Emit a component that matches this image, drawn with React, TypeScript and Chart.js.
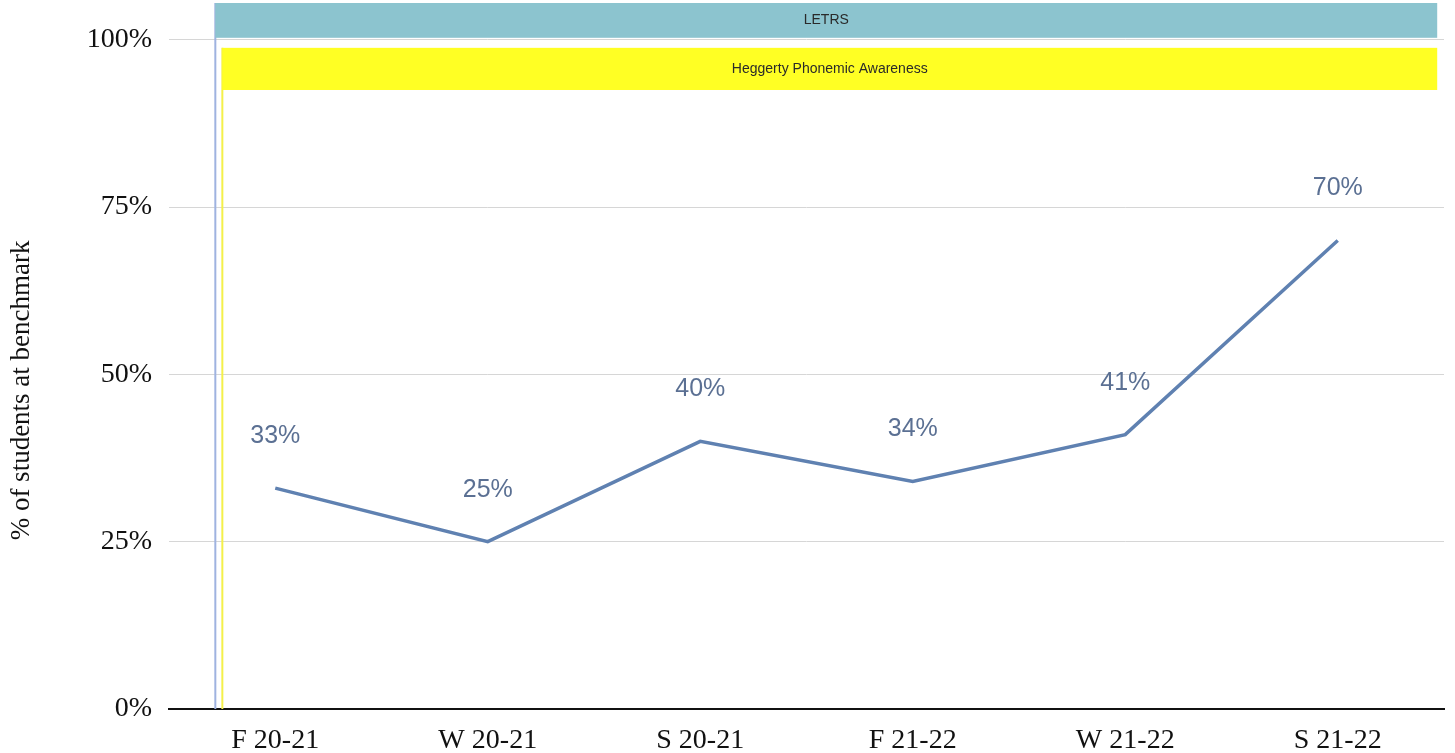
import React, { useEffect, useRef } from "react";
import { Chart, registerables } from "chart.js";

Chart.register(...registerables);

const categories = ["F 20-21", "W 20-21", "S 20-21", "F 21-22", "W 21-22", "S 21-22"];
const values = [33, 25, 40, 34, 41, 70];
const valueLabels = ["33%", "25%", "40%", "34%", "41%", "70%"];
const yTicks = [0, 25, 50, 75, 100];
const yTitle = "% of students at benchmark";

const bandNames = ["LETRS", "Heggerty Phonemic Awareness"];
const bandFrom = [100.3, 92.5];
const bandTo = [105.5, 98.8];
const bandStartIdx = [-0.282, -0.249];
const bandEndIdx = [5.468, 5.468];
const bandFill = ["#8cc4cf", "#ffff24"];
const bandEdge = ["#9fb3e0", "#f4f04a"];

const bandsPlugin = {
  id: "bands",
  beforeDatasetsDraw(chart: any) {
    const { ctx, scales } = chart;
    const x = scales.x;
    const y = scales.y;
    ctx.save();
    for (let i = 0; i < bandNames.length; i++) {
      const x0 = x.getPixelForValue(bandStartIdx[i]);
      const x1 = x.getPixelForValue(bandEndIdx[i]);
      const yTop = y.getPixelForValue(bandTo[i]);
      const yBot = y.getPixelForValue(bandFrom[i]);
      const y0 = y.getPixelForValue(0);
      ctx.strokeStyle = bandEdge[i];
      ctx.lineWidth = 2;
      ctx.beginPath();
      ctx.moveTo(x0, yTop);
      ctx.lineTo(x0, y0);
      ctx.stroke();
      ctx.fillStyle = bandFill[i];
      ctx.fillRect(x0, yTop, x1 - x0, yBot - yTop);
      ctx.fillStyle = "#2a2a2a";
      ctx.font = '14px "Liberation Sans", Arial, sans-serif';
      ctx.textAlign = "center";
      ctx.textBaseline = "middle";
      ctx.fillText(bandNames[i], (x0 + x1) / 2, (yTop + yBot) / 2);
    }
    ctx.restore();
  },
};

const labelsPlugin = {
  id: "valueLabels",
  afterDatasetsDraw(chart: any) {
    const { ctx } = chart;
    const meta = chart.getDatasetMeta(0);
    ctx.save();
    ctx.fillStyle = "#5b7093";
    ctx.font = '25px "Liberation Sans", Arial, sans-serif';
    ctx.textAlign = "center";
    ctx.textBaseline = "middle";
    meta.data.forEach((pt: any, i: number) => {
      ctx.fillText(valueLabels[i], pt.x, pt.y - 52);
    });
    ctx.restore();
  },
};

const yTitlePlugin = {
  id: "yTitle",
  afterDraw(chart: any) {
    const { ctx, scales } = chart;
    const y = scales.y;
    const cy = (y.getPixelForValue(0) + y.getPixelForValue(100)) / 2 + 16;
    ctx.save();
    ctx.translate(22, cy);
    ctx.rotate(-Math.PI / 2);
    ctx.fillStyle = "#111";
    ctx.font = '27px "Liberation Serif", "Times New Roman", serif';
    ctx.textAlign = "center";
    ctx.textBaseline = "middle";
    ctx.fillText(yTitle, 0, 0);
    ctx.restore();
  },
};

export default function App() {
  const ref = useRef<HTMLCanvasElement | null>(null);
  useEffect(() => {
    if (!ref.current) return;
    const chart = new Chart(ref.current, {
      type: "line",
      data: {
        labels: categories,
        datasets: [
          {
            data: values,
            borderColor: "#5f81b1",
            borderWidth: 3.5,
            pointRadius: 0,
            tension: 0,
            fill: false,
          },
        ],
      },
      options: {
        animation: false,
        responsive: false,
        layout: { padding: { top: 3, right: 11, left: 0, bottom: 0 } },
        plugins: { legend: { display: false }, tooltip: { enabled: false } },
        scales: {
          x: {
            type: "category",
            offset: true,
            grid: { display: false },
            border: { display: true, color: "#111", width: 2 },
            ticks: {
              color: "#111",
              padding: 7,
              maxRotation: 0,
              font: { family: '"Liberation Serif", "Times New Roman", serif', size: 28 },
            },
            afterFit(scale: any) {
              scale.height = 44;
              scale.paddingLeft = 0;
              scale.paddingRight = 0;
            },
          },
          y: {
            min: 0,
            max: 105.5,
            afterBuildTicks(scale: any) {
              scale.ticks = yTicks.map((v) => ({ value: v }));
            },
            grid: {
              drawTicks: false,
              color: (c: any) => (c.tick && c.tick.value === 0 ? "rgba(0,0,0,0)" : "#d6d6d6"),
              lineWidth: 1,
            },
            border: { display: false },
            ticks: {
              color: "#111",
              padding: 17,
              callback: (v: any) => v + "%",
              font: { family: '"Liberation Serif", "Times New Roman", serif', size: 28 },
            },
            title: { display: false },
            afterFit(scale: any) {
              scale.width = 169;
              scale.paddingTop = 0;
              scale.paddingBottom = 0;
            },
          },
        },
      },
      plugins: [bandsPlugin, labelsPlugin, yTitlePlugin],
    });
    return () => chart.destroy();
  }, []);
  return (
    <div style={{ position: "fixed", left: 0, top: 0, width: 1455, height: 753, background: "#fff" }}>
      <canvas ref={ref} width={1455} height={753} style={{ display: "block" }} />
    </div>
  );
}
